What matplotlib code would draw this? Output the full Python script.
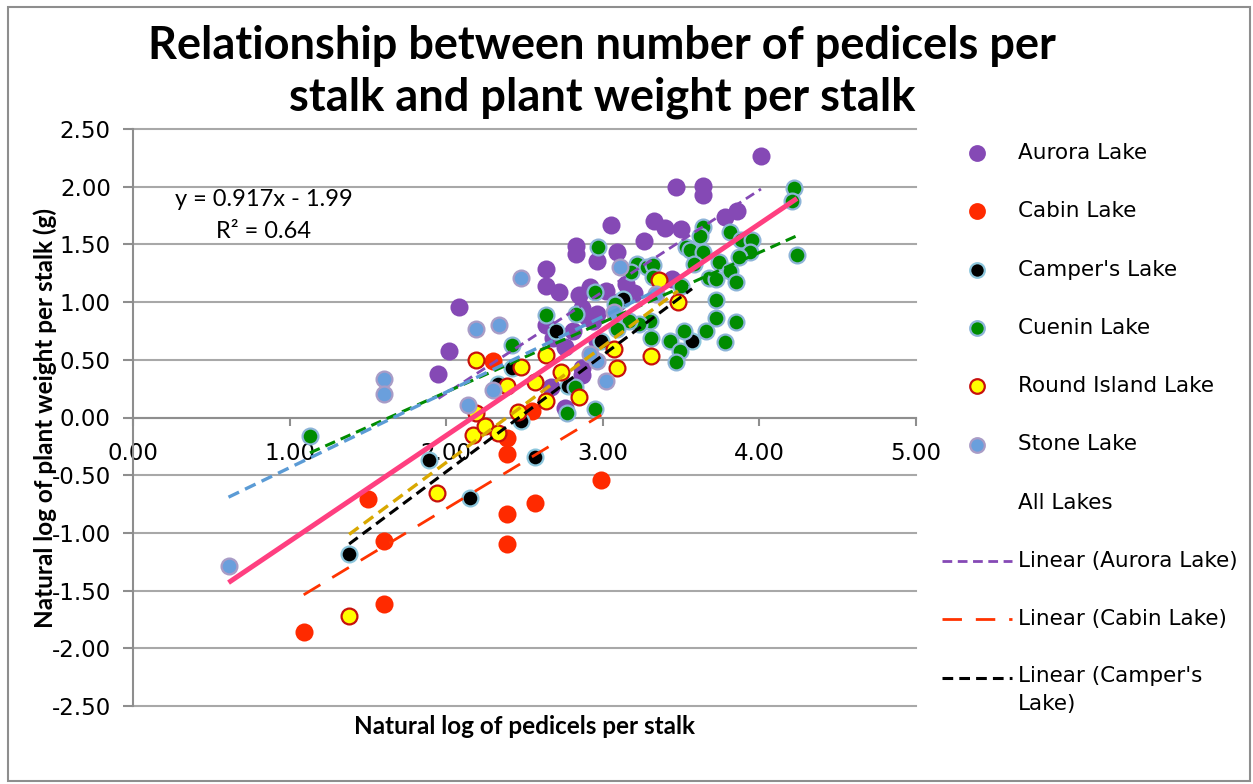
import matplotlib
matplotlib.use("Agg")
import matplotlib.pyplot as plt
from matplotlib.lines import Line2D
from matplotlib.patches import Rectangle
import numpy as np

# chart size in pixels (dpi 100)
W, H = 1253, 784

# ---- data (ln pedicels per stalk, ln plant weight) ----
aurora_x = [4.01, 3.47, 3.64, 3.64, 3.86, 3.78, 3.33, 3.40, 3.50, 3.05, 3.26, 2.83, 2.83, 3.09,
            2.96, 2.64, 2.64, 2.72, 2.85, 2.92, 3.02, 3.15, 3.16, 3.44, 2.87, 2.96, 2.94, 2.64,
            2.81, 2.68, 2.76, 2.96, 2.87, 2.87, 2.67, 2.76, 2.08, 2.02, 1.95, 2.90, 3.10, 3.20]
aurora_y = [2.27, 2.00, 2.01, 1.93, 1.79, 1.74, 1.70, 1.64, 1.63, 1.67, 1.53, 1.49, 1.42, 1.43,
            1.36, 1.29, 1.14, 1.09, 1.06, 1.13, 1.10, 1.16, 1.06, 1.20, 0.95, 0.90, 0.84, 0.80,
            0.75, 0.69, 0.61, 0.66, 0.37, 0.43, 0.26, 0.08, 0.96, 0.58, 0.38, 0.87, 1.00, 1.08]

cabin_x = [1.09, 1.50, 1.60, 1.60, 2.39, 2.39, 2.39, 2.39, 2.57, 2.99, 2.30, 2.55]
cabin_y = [-1.86, -0.71, -1.07, -1.62, -0.18, -0.32, -0.84, -1.10, -0.74, -0.54, 0.49, 0.06]

camper_x = [1.38, 1.89, 2.15, 2.57, 2.48, 2.70, 3.13, 3.57, 2.99, 2.42, 2.78, 2.33]
camper_y = [-1.18, -0.37, -0.70, -0.34, -0.03, 0.75, 1.03, 0.66, 0.66, 0.43, 0.27, 0.29]

cuenin_x = [1.13, 4.22, 4.21, 4.24, 3.64, 3.62, 3.81, 3.88, 3.95, 3.94, 3.87, 3.53, 3.56, 3.64,
            3.58, 3.74, 3.81, 3.85, 3.68, 3.50, 3.72, 3.72, 3.85, 3.66, 3.78, 3.52, 3.43, 3.49,
            3.47, 3.31, 3.30, 3.23, 3.17, 3.09, 3.08, 2.83, 2.64, 2.42, 2.97, 3.22, 3.28, 3.32,
            3.18, 2.95, 3.32, 2.82, 2.95, 2.77, 3.72]
cuenin_y = [-0.16, 1.99, 1.88, 1.41, 1.65, 1.57, 1.61, 1.54, 1.54, 1.43, 1.39, 1.48, 1.45, 1.43,
            1.33, 1.35, 1.27, 1.17, 1.21, 1.14, 1.02, 0.86, 0.83, 0.75, 0.65, 0.75, 0.66, 0.58,
            0.48, 0.69, 0.84, 0.81, 0.84, 0.77, 0.98, 0.90, 0.89, 0.63, 1.48, 1.33, 1.30, 1.32,
            1.26, 1.09, 1.22, 0.26, 0.07, 0.04, 1.20]

round_x = [1.38, 1.94, 2.19, 2.48, 2.39, 2.46, 2.19, 2.17, 2.25, 2.33, 2.57, 2.73, 2.85, 2.64,
           3.09, 3.07, 3.31, 3.48, 3.36, 2.64]
round_y = [-1.72, -0.65, 0.50, 0.44, 0.27, 0.05, 0.04, -0.15, -0.07, -0.13, 0.31, 0.39, 0.18, 0.14,
           0.43, 0.59, 0.53, 1.00, 1.19, 0.54]

stone_x = [0.61, 1.60, 1.60, 2.14, 2.19, 2.34, 2.48, 2.30, 3.11, 3.02, 2.96, 3.34, 3.07, 2.92]
stone_y = [-1.29, 0.33, 0.20, 0.11, 0.77, 0.80, 1.21, 0.24, 1.30, 0.32, 0.49, 1.07, 0.91, 0.55]

# trendline slope / intercept
trend_slope = {"aurora": 0.881, "cabin": 0.82, "camper": 1.01, "cuenin": 0.605,
               "round": 1.005, "stone": 0.655, "all": 0.917}
trend_icpt = {"aurora": -1.553, "cabin": -2.43, "camper": -2.49, "cuenin": -0.99,
              "round": -2.40, "stone": -1.09, "all": -1.99}

series = [
    ("aurora", "Aurora Lake", aurora_x, aurora_y, "#8549b5", "#8549b5"),
    ("cabin", "Cabin Lake", cabin_x, cabin_y, "#ff2a00", "#ff2a00"),
    ("camper", "Camper's Lake", camper_x, camper_y, "#000000", "#8cc6dc"),
    ("cuenin", "Cuenin Lake", cuenin_x, cuenin_y, "#008c00", "#8db4d8"),
    ("round", "Round Island Lake", round_x, round_y, "#ffff00", "#c8100c"),
    ("stone", "Stone Lake", stone_x, stone_y, "#6a9fdc", "#a99cc6"),
]

trend_style = {
    "aurora": dict(color="#8549b5", lw=2.0, dashes=(3.5, 2)),
    "cabin": dict(color="#ff3300", lw=2.0, dashes=(7, 5)),
    "camper": dict(color="#000000", lw=2.2, dashes=(3.5, 2)),
    "cuenin": dict(color="#008c00", lw=2.2, dashes=(3.5, 2)),
    "round": dict(color="#d9a800", lw=2.4, dashes=(3.5, 2)),
    "stone": dict(color="#5b9bd5", lw=2.4, dashes=(3.5, 2)),
}


def fx(px):
    return px / W


def fy(py):
    return 1 - py / H


fig = plt.figure(figsize=(W / 100, H / 100), dpi=100)
ax = fig.add_axes([fx(133), fy(706), fx(916) - fx(133), fy(129) - fy(706)])

for key, name, xs, ys, fc, ec in series:
    ax.scatter(xs, ys, s=130, facecolor=fc, edgecolor=ec, linewidths=1.6, zorder=3)

# per-lake trendlines over each lake's x range
for key, name, xs, ys, fc, ec in series:
    xr = np.array([min(xs), max(xs)])
    ax.plot(xr, trend_slope[key] * xr + trend_icpt[key], zorder=4, **trend_style[key])

# all lakes trendline
all_x = np.concatenate([s[2] for s in series])
xr = np.array([all_x.min(), all_x.max()])
ax.plot(xr, trend_slope["all"] * xr + trend_icpt["all"], color="#ff3f80", lw=3.6,
        solid_capstyle="butt", zorder=5)

ax.set_xlim(0, 5)
ax.set_ylim(-2.5, 2.5)
ax.set_xticks(np.arange(0, 5.01, 1))
ax.set_yticks(np.arange(-2.5, 2.51, 0.5))
ax.set_xticklabels([f"{v:.2f}" for v in np.arange(0, 5.01, 1)])
ax.set_yticklabels([f"{v:.2f}" for v in np.arange(-2.5, 2.51, 0.5)])

ax.spines["top"].set_visible(False)
ax.spines["right"].set_visible(False)
ax.spines["bottom"].set_position(("data", 0))
for sp in ("left", "bottom"):
    ax.spines[sp].set_color("#8e8e8e")
    ax.spines[sp].set_linewidth(1.5)
ax.tick_params(axis="x", direction="out", length=6, width=1.5, color="#8e8e8e",
               pad=12, labelsize=16.5, labelcolor="black")
ax.tick_params(axis="y", direction="out", length=7, width=1.5, color="#8e8e8e",
               pad=9, labelsize=16.5, labelcolor="black")
ax.set_axisbelow(True)
ax.yaxis.grid(True, color="#a8a8a8", lw=1.5)
for gl in ax.get_ygridlines():
    gl.set_clip_on(False)

# titles
fig.text(fx(602), fy(72), "Relationship between number of pedicels per\nstalk and plant weight per stalk",
         ha="center", va="center", fontsize=32.5, fontweight="bold", family="Lato", linespacing=1.3)
fig.text(fx(524), fy(727), "Natural log of pedicels per stalk", ha="center", va="center",
         fontsize=17.5, fontweight="bold", family="Lato")
fig.text(fx(45), fy(418), "Natural log of plant weight per stalk (g)", ha="center", va="center",
         rotation=90, fontsize=17.5, fontweight="bold", family="Lato")

# equation of the all lakes trendline
fig.text(fx(264), fy(200), f"y = {trend_slope['all']}x - {abs(trend_icpt['all'])}",
         ha="center", va="center", fontsize=17, family="Lato")
fig.text(fx(264), fy(232), "R\u00b2 = 0.64", ha="center", va="center", fontsize=17, family="Lato")

# legend (cut off after Camper's trendline like the original)
row = 58.3
y0 = 153
for i, (key, name, xs, ys, fc, ec) in enumerate(series):
    yy = y0 + i * row
    fig.add_artist(Line2D([fx(977)], [fy(yy)], marker="o", markersize=10.5, markerfacecolor=fc,
                          markeredgecolor=ec, markeredgewidth=1.6, linestyle="none"))
    fig.text(fx(1018), fy(yy), name, ha="left", va="center", fontsize=15.5)
fig.text(fx(1018), fy(y0 + 6 * row), "All Lakes", ha="left", va="center", fontsize=15.5)
leg_lines = [("aurora", "Linear (Aurora Lake)"), ("cabin", "Linear (Cabin Lake)"),
             ("camper", "Linear (Camper's\nLake)")]
for j, (key, label) in enumerate(leg_lines):
    yy = y0 + (7 + j) * row
    fig.add_artist(Line2D([fx(942), fx(1012)], [fy(yy), fy(yy)], **trend_style[key]))
    fig.text(fx(1018), fy(yy - 12) if "\n" in label else fy(yy), label, ha="left",
             va="top" if "\n" in label else "center", fontsize=15.5, linespacing=1.5)

# outer chart border
fig.add_artist(Rectangle((fx(8), fy(781)), fx(1250) - fx(8), fy(7) - fy(781),
                         transform=fig.transFigure, fill=False, edgecolor="#8e8e8e", lw=1.5))

fig.savefig("out.png", dpi=100)
